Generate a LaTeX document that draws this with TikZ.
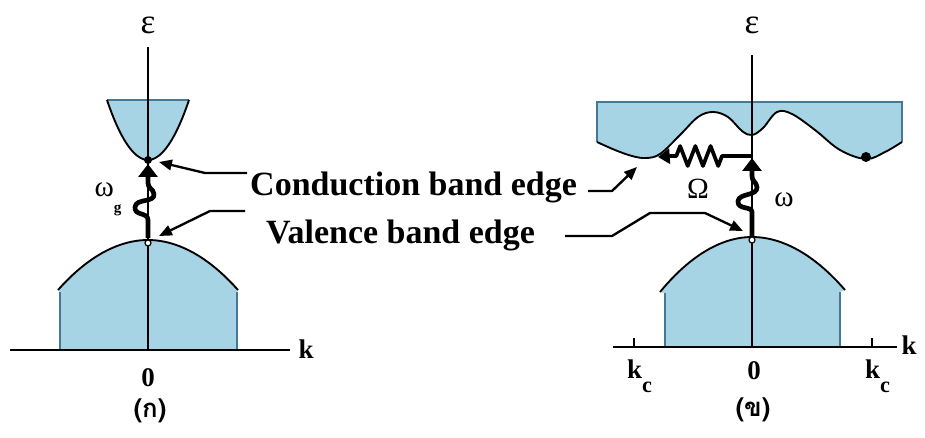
\documentclass[tikz,border=0pt]{standalone}
\usepackage{fontspec}
\setmainfont{Liberation Serif}
\newfontfamily\thaifont[Script=Thai]{Loma}
\usetikzlibrary{arrows.meta,calc,decorations.pathmorphing}

\definecolor{bandfill}{RGB}{166,212,228}
\definecolor{bandside}{RGB}{70,120,150}

\begin{document}
\begin{tikzpicture}[
    x=0.3mm, y=-0.3mm, % 1 unit = 1 pixel of the reference
    >={Triangle[length=11pt,width=9pt]},
    band/.style={fill=bandfill},
    bandcurve/.style={line width=1.6pt, black},
    bandwall/.style={line width=0.9pt, bandside},
    axis/.style={line width=1.8pt, black},
    photon/.style={line width=4pt, line join=round, -{Triangle[length=11pt,width=16pt]}},
    spring/.style={line width=3.2pt, line join=round, -{Triangle[length=10pt,width=13pt]}},
    pointer/.style={line width=2pt, line join=round, ->},
    edgetext/.style={font=\bfseries\fontsize{29}{32}\selectfont, inner sep=0pt},
    axlabel/.style={font=\bfseries\fontsize{23}{25}\selectfont, inner sep=0pt},
    greek/.style={font=\fontsize{25}{27}\selectfont, inner sep=0pt},
    panel/.style={font=\thaifont\bfseries\fontsize{22}{24}\selectfont, inner sep=0pt}
]
    \useasboundingbox (0,0) rectangle (925,438);

    % --- coordinates, panel (a) ---
    \coordinate (A0)    at (148,350);   % origin
    \coordinate (Atop)  at (148,47);
    \coordinate (Aleft) at (10,350);
    \coordinate (Aright) at (290,350);
    \coordinate (Acb)   at (148,160);   % conduction band edge
    \coordinate (Avb)   at (148,243);   % valence band edge

    % --- coordinates, panel (b) ---
    \coordinate (B0)    at (752,347);
    \coordinate (Btop)  at (752,55);
    \coordinate (Bleft) at (613,347);
    \coordinate (Bright) at (897,347);
    \coordinate (Bcb)   at (866,157);
    \coordinate (Bvb)   at (752,240);

    % --- panel (a): bands ---
    \fill[band] (107,100) parabola bend (Acb) (189,100) -- cycle;
    \draw[bandwall] (107,100) -- (189,100);
    \draw[bandcurve] (107,100) parabola bend (Acb) (189,100);

    \fill[band] (60,350) -- (60,292) -- (58,290) parabola bend (148,240) (238,290)
                -- (237,292) -- (237,350) -- cycle;
    \draw[bandwall] (60,292) -- (60,350) (237,292) -- (237,350);
    \draw[bandcurve] (58,290) parabola bend (148,240) (238,290);

    % --- panel (b): bands ---
    \fill[band] (597,102) -- (597,142) -- plot[smooth, tension=0.6] coordinates {
        (597,142) (615,150) (632,156) (646,158) (660,154) (680,135) (698,117)
        (713,112) (728,117) (742,131) (752,135) (763,128) (777,112) (792,114)
        (815,130) (840,150) (866,159) (885,152) (902,142)} -- (902,102) -- cycle;
    \draw[bandwall] (597,142) -- (597,102) -- (902,102) -- (902,142);
    \draw[bandcurve] plot[smooth, tension=0.6] coordinates {
        (597,142) (615,150) (632,156) (646,158) (660,154) (680,135) (698,117)
        (713,112) (728,117) (742,131) (752,135) (763,128) (777,112) (792,114)
        (815,130) (840,150) (866,159) (885,152) (902,142)};

    \fill[band] (665,347) -- (665,293) -- (660,292) parabola bend (752,237) (845,290)
                -- (840,292) -- (840,347) -- cycle;
    \draw[bandwall] (665,293) -- (665,347) (840,292) -- (840,347);
    \draw[bandcurve] (660,292) parabola bend (752,237) (845,290);

    % --- axes ---
    \draw[axis] (Aleft) -- (Aright);
    \draw[axis] (Atop) -- (A0);
    \draw[axis] (Bleft) -- (Bright);
    \draw[axis] (Btop) -- (B0);
    \draw[axis] (634,338) -- (634,347);
    \draw[axis] (872,338) -- (872,347);

    % --- band edge points ---
    \fill (Acb) circle (4);
    \draw[line width=1pt, fill=white] (Avb) circle (3);
    \fill (Bcb) circle (5);
    \draw[line width=1pt, fill=white] (Bvb) circle (3);

    % --- photons ---
    \draw[photon] (148,238) -- (148,220) .. controls (148,212) and (134,216) .. (135,207)
        .. controls (136,198) and (155,203) .. (154,194)
        .. controls (153,188) and (148,189) .. (148,183) -- (148,164);
    \draw[photon] (752,236) -- (752,212) .. controls (752,206) and (737,210) .. (738,201)
        .. controls (739,193) and (758,196) .. (757,187)
        .. controls (756,181) and (752,182) .. (752,176) -- (752,158);

    % --- phonon (spring) ---
    \coordinate (Wstart) at (752,156);
    \coordinate (Wtip)   at (658,157);
    \draw[spring] (Wstart) -- (722,156)
        decorate[decoration={zigzag, segment length=13pt, amplitude=8.5pt}] {-- (672,156)}
        -- (Wtip);

    % --- labels ---
    \node[font=\fontsize{30}{32}\selectfont, inner sep=0pt] (epsA) at (148,25) {ε};
    \node[font=\fontsize{30}{32}\selectfont, inner sep=0pt] (epsB) at (752,25) {ε};
    \node[axlabel] (kA) at (306,349) {k};
    \node[axlabel] (kB) at (909,345) {k};
    \node[axlabel] (zeroA) at (148,378) {0};
    \node[axlabel] (zeroB) at (754,371) {0};
    \node[axlabel, anchor=base west] (kcL) at (627,378) {k\raisebox{-0.55em}{\fontsize{19}{21}\selectfont c}};
    \node[axlabel, anchor=base west] (kcR) at (865,378) {k\raisebox{-0.55em}{\fontsize{19}{21}\selectfont c}};
    \node[greek] (wg) at (108,199) {ω\raisebox{-0.55em}{\fontsize{13}{15}\selectfont\bfseries g}};
    \node[greek] (Om) at (698,189) {Ω};
    \node[greek] (wB) at (784,200) {ω};
    \node[panel] (capA) at (150,411) {(ก)};
    \node[panel] (capB) at (753,410) {(ข)};

    % --- band edge labels and pointers ---
    \node[edgetext, anchor=base west] (cbe) at (250,195) {Conduction band edge};
    \node[edgetext, anchor=base west] (vbe) at (266,243) {Valence band edge};

    \coordinate (cbA) at (247,173);
    \coordinate (vbA) at (245,211);
    \coordinate (cbB) at (588,191);
    \coordinate (vbB) at (565,236);

    \draw[pointer] (cbA) -- ++(-42,0) -- (159,162);
    \draw[pointer] (vbA) -- ++(-35,0) -- (159,236);
    \draw[pointer] (cbB) -- ++(24,0) -- (637,167);
    \draw[pointer] (vbB) -- ++(47,0) -- (650,213) -- (705,213) -- (743,231);
\end{tikzpicture}
\end{document}
